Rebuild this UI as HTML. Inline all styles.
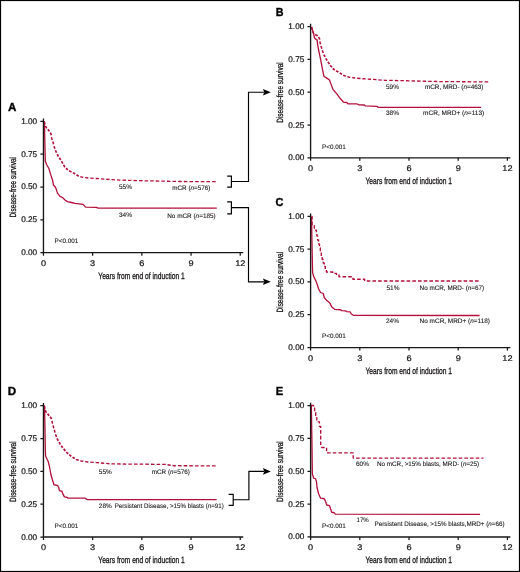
<!DOCTYPE html>
<html lang="en"><head><meta charset="utf-8"><title>Disease-free survival by mCR and MRD status</title>
<style>
html,body{margin:0;padding:0;background:#fff;}
body{width:520px;height:572px;overflow:hidden;}
svg{display:block;}
text{font-family:"Liberation Sans",sans-serif;fill:#1a1718;text-rendering:geometricPrecision;}
.tk{font-size:8.2px;stroke:#1a1718;stroke-width:0.22px;}
.lb{font-size:6.5px;stroke:#1a1718;stroke-width:0.1px;}
.ti{font-size:9.1px;stroke:#1a1718;stroke-width:0.3px;}
.ty{stroke-width:0.3px;}
.pl{font-size:11.6px;font-weight:bold;fill:#000;stroke:#000;stroke-width:0.35px;}
.ax{stroke:#1a1718;stroke-width:1.35;fill:none;}
.tick{stroke:#1a1718;stroke-width:1.25;fill:none;}
.cn{stroke:#000;stroke-width:1.15;fill:none;}
.cs{stroke:#B2103A;stroke-width:1.3;fill:none;stroke-linejoin:round;}
.cd{stroke:#B2103A;fill:none;stroke-linejoin:round;}
</style></head><body>
<svg width="520" height="572" viewBox="0 0 520 572">
<rect x="0" y="0" width="520" height="572" fill="#fff"/>
<rect x="0.55" y="0.55" width="518.9" height="570.9" fill="none" stroke="#000" stroke-width="1.1"/>
<g id="panel-A">
<text class="pl" x="8.0" y="111.3" textLength="8.4" lengthAdjust="spacingAndGlyphs">A</text>
<path class="cd" stroke-width="1.30" d="M139.03,180.67 L140.00,180.70 L142.55,180.75 M144.61,180.79 L148.14,180.86 M150.20,180.90 L153.73,180.97 M155.78,181.02 L159.31,181.09 M161.37,181.13 L164.90,181.20 M166.96,181.24 L170.49,181.31 M172.55,181.35 L176.08,181.42 M178.14,181.46 L180.00,181.50 L181.69,181.51 M183.78,181.52 L187.36,181.54 M189.45,181.55 L193.03,181.57 M195.12,181.58 L198.70,181.60 M200.79,181.61 L204.37,181.63 M206.46,181.64 L210.04,181.66 M212.13,181.67 L215.71,181.69"/>
<path class="cd" stroke-width="1.35" d="M90.28,178.12 L93.67,178.33 M95.64,178.46 L96.25,178.50 L99.01,178.69 M100.98,178.82 L104.34,179.06 M111.52,179.68 L114.95,179.85 M116.95,179.95 L120.00,180.10 L120.39,180.11 M122.43,180.17 L125.92,180.28 M127.96,180.34 L131.46,180.44 M133.50,180.50 L136.99,180.61"/>
<path class="cd" stroke-width="1.40" d="M85.07,177.63 L88.36,177.94 M106.27,179.23 L109.55,179.55"/>
<path class="cd" stroke-width="1.50" d="M44.30,121.50 L44.90,124.50 M51.55,137.05 L51.80,138.40 L52.28,139.92 M80.35,176.65 L83.23,177.37"/>
<path class="cd" stroke-width="1.55" d="M52.78,141.52 L53.00,142.20 L53.59,144.31 M54.05,145.95 L54.20,146.50 L54.89,148.71"/>
<path class="cd" stroke-width="1.60" d="M50.28,132.62 L50.90,133.50 L51.23,135.27"/>
<path class="cd" stroke-width="1.65" d="M45.50,126.00 L46.50,128.00 L46.79,128.31 M55.42,150.28 L56.50,152.80 M63.57,164.93 L64.86,167.24 M69.12,170.78 L71.52,171.98"/>
<path class="cd" stroke-width="1.70" d="M47.79,129.41 L48.80,130.50 L49.42,131.38 M57.20,154.20 L58.40,156.25 L58.53,156.47 M59.34,157.76 L60.71,159.99 M61.52,161.28 L61.90,161.90 L62.83,163.57 M65.93,168.27 L67.90,169.90 M72.92,172.68 L73.75,173.10 L75.19,174.01 M76.48,174.82 L78.69,176.21"/>
<path class="cs" d="M44.40,121.30 L45.30,161.20 L46.90,165.00 L49.00,168.80 L50.60,174.40 L52.50,180.00 L53.50,185.00 L55.60,187.50 L57.50,193.10 L60.00,196.30 L62.50,197.50 L65.00,200.00 L67.50,201.60 L71.30,202.50 L75.00,203.40 L78.80,203.80 L83.10,204.40 L85.60,207.10 L96.30,207.30 L98.10,208.10 L216.80,208.20"/>
<path class="tick" d="M40.35,252.65H43.45M40.35,219.82H43.45M40.35,187.00H43.45M40.35,154.18H43.45M40.35,121.35H43.45M43.45,252.65V255.65M92.65,252.65V255.65M141.85,252.65V255.65M191.05,252.65V255.65M240.25,252.65V255.65"/>
<path class="ax" d="M43.45,118.55 V252.65 H243.25"/>
<text class="tk" x="21.2" y="255.1" textLength="16.0" lengthAdjust="spacingAndGlyphs">0.00</text>
<text class="tk" x="21.2" y="222.3" textLength="16.0" lengthAdjust="spacingAndGlyphs">0.25</text>
<text class="tk" x="21.2" y="189.4" textLength="16.0" lengthAdjust="spacingAndGlyphs">0.50</text>
<text class="tk" x="21.2" y="156.6" textLength="16.0" lengthAdjust="spacingAndGlyphs">0.75</text>
<text class="tk" x="21.2" y="123.8" textLength="16.0" lengthAdjust="spacingAndGlyphs">1.00</text>
<text class="tk" x="40.90" y="265.6" textLength="5.1" lengthAdjust="spacingAndGlyphs">0</text>
<text class="tk" x="90.10" y="265.6" textLength="5.1" lengthAdjust="spacingAndGlyphs">3</text>
<text class="tk" x="139.30" y="265.6" textLength="5.1" lengthAdjust="spacingAndGlyphs">6</text>
<text class="tk" x="188.50" y="265.6" textLength="5.1" lengthAdjust="spacingAndGlyphs">9</text>
<text class="tk" x="235.15" y="265.6" textLength="10.2" lengthAdjust="spacingAndGlyphs">12</text>
<text class="ti" x="98.3" y="278.8" textLength="86.5" lengthAdjust="spacingAndGlyphs">Years from end of induction 1</text>
<text class="ti ty" transform="translate(16.0,217.6) rotate(-90)" textLength="60.6" lengthAdjust="spacingAndGlyphs">Disease-free survival</text>
<text class="lb" x="119.0" y="188.6" textLength="13.0" lengthAdjust="spacingAndGlyphs">55%</text>
<text class="lb" x="172.3" y="189.7" textLength="38.1" lengthAdjust="spacingAndGlyphs">mCR (<tspan font-style='italic'>n</tspan>=576)</text>
<text class="lb" x="119.0" y="216.8" textLength="13.0" lengthAdjust="spacingAndGlyphs">34%</text>
<text class="lb" x="167.2" y="218.1" textLength="48.5" lengthAdjust="spacingAndGlyphs">No mCR (<tspan font-style='italic'>n</tspan>=185)</text>
<text class="lb" x="54.5" y="243.2" textLength="23.8" lengthAdjust="spacingAndGlyphs">P&lt;0.001</text>
</g>
<g id="panel-B">
<text class="pl" x="275.7" y="15.9" textLength="7.8" lengthAdjust="spacingAndGlyphs">B</text>
<path class="cd" stroke-width="1.30" d="M389.21,80.39 L392.74,80.46 M394.80,80.50 L398.32,80.58 M400.38,80.62 L403.91,80.69 M405.96,80.74 L409.00,80.80 L409.49,80.81 M439.32,81.58 L440.00,81.60 L442.88,81.62 M444.97,81.63 L448.55,81.65 M450.63,81.67 L454.21,81.69 M456.30,81.70 L459.88,81.72 M461.96,81.74 L465.54,81.76 M467.63,81.77 L471.21,81.79 M473.30,81.80 L476.87,81.83 M478.96,81.84 L482.54,81.86 M484.63,81.87 L488.20,81.90"/>
<path class="cd" stroke-width="1.35" d="M362.40,78.70 L363.00,78.75 L365.77,78.93 M367.74,79.06 L371.12,79.28 M373.09,79.41 L376.44,79.66 M378.40,79.80 L381.74,80.06 M383.70,80.20 L385.00,80.30 L387.16,80.34 M411.53,80.87 L415.04,80.96 M417.09,81.01 L420.60,81.10 M422.65,81.15 L426.16,81.24 M428.20,81.30 L431.71,81.39 M433.76,81.44 L437.27,81.53"/>
<path class="cd" stroke-width="1.40" d="M357.16,78.24 L360.47,78.53"/>
<path class="cd" stroke-width="1.45" d="M352.07,77.63 L355.24,78.06"/>
<path class="cd" stroke-width="1.50" d="M319.92,41.38 L320.20,43.30 L320.52,44.38 M347.35,76.65 L349.25,77.25 L350.22,77.38"/>
<path class="cd" stroke-width="1.55" d="M311.50,27.00 L312.36,29.74 M312.87,31.33 L313.73,34.07 M321.00,46.00 L321.83,48.77 M322.34,50.36 L323.21,53.09"/>
<path class="cd" stroke-width="1.60" d="M343.21,75.09 L344.00,75.60 L345.75,76.15"/>
<path class="cd" stroke-width="1.65" d="M315.13,34.77 L317.20,35.50 L317.55,35.95 M318.46,37.14 L319.50,38.50 L319.65,39.55 M323.77,54.63 L325.03,56.97"/>
<path class="cd" stroke-width="1.70" d="M325.76,58.34 L326.00,58.80 L327.12,60.58 M327.92,61.88 L328.50,62.80 L329.39,64.01 M330.28,65.22 L331.00,66.20 L331.88,67.22 M332.85,68.35 L333.40,69.00 L334.84,69.96 M336.10,70.80 L336.40,71.00 L338.40,72.10 M339.74,72.86 L341.93,74.27"/>
<path class="cs" d="M311.50,27.00 L312.60,30.50 L313.80,34.30 L314.50,37.80 L315.70,39.10 L317.10,40.10 L317.60,44.30 L318.60,50.00 L320.50,58.80 L322.40,68.80 L323.90,76.30 L326.80,78.10 L329.50,80.00 L331.10,84.40 L333.00,89.40 L336.80,93.80 L340.50,98.80 L343.60,102.20 L346.80,102.50 L348.00,103.80 L356.80,103.80 L358.60,104.80 L364.30,105.00 L365.50,105.90 L377.00,106.30 L378.00,107.30 L481.20,107.30"/>
<path class="tick" d="M307.50,157.85H310.60M307.50,125.02H310.60M307.50,92.20H310.60M307.50,59.37H310.60M307.50,26.55H310.60M310.60,157.85V160.85M359.80,157.85V160.85M409.00,157.85V160.85M458.20,157.85V160.85M507.40,157.85V160.85"/>
<path class="ax" d="M310.60,23.75 V157.85 H510.40"/>
<text class="tk" x="288.3" y="160.3" textLength="16.0" lengthAdjust="spacingAndGlyphs">0.00</text>
<text class="tk" x="288.3" y="127.5" textLength="16.0" lengthAdjust="spacingAndGlyphs">0.25</text>
<text class="tk" x="288.3" y="94.6" textLength="16.0" lengthAdjust="spacingAndGlyphs">0.50</text>
<text class="tk" x="288.3" y="61.8" textLength="16.0" lengthAdjust="spacingAndGlyphs">0.75</text>
<text class="tk" x="288.3" y="29.0" textLength="16.0" lengthAdjust="spacingAndGlyphs">1.00</text>
<text class="tk" x="308.05" y="170.8" textLength="5.1" lengthAdjust="spacingAndGlyphs">0</text>
<text class="tk" x="357.25" y="170.8" textLength="5.1" lengthAdjust="spacingAndGlyphs">3</text>
<text class="tk" x="406.45" y="170.8" textLength="5.1" lengthAdjust="spacingAndGlyphs">6</text>
<text class="tk" x="455.65" y="170.8" textLength="5.1" lengthAdjust="spacingAndGlyphs">9</text>
<text class="tk" x="502.30" y="170.8" textLength="10.2" lengthAdjust="spacingAndGlyphs">12</text>
<text class="ti" x="365.5" y="183.9" textLength="86.5" lengthAdjust="spacingAndGlyphs">Years from end of induction 1</text>
<text class="ti ty" transform="translate(283.1,122.8) rotate(-90)" textLength="60.6" lengthAdjust="spacingAndGlyphs">Disease-free survival</text>
<text class="lb" x="386.0" y="89.4" textLength="13.0" lengthAdjust="spacingAndGlyphs">59%</text>
<text class="lb" x="424.9" y="89.3" textLength="58.6" lengthAdjust="spacingAndGlyphs">mCR, MRD- (<tspan font-style='italic'>n</tspan>=463)</text>
<text class="lb" x="386.0" y="115.4" textLength="13.0" lengthAdjust="spacingAndGlyphs">38%</text>
<text class="lb" x="423.1" y="115.3" textLength="61.1" lengthAdjust="spacingAndGlyphs">mCR, MRD+ (<tspan font-style='italic'>n</tspan>=113)</text>
<text class="lb" x="322.0" y="148.5" textLength="23.8" lengthAdjust="spacingAndGlyphs">P&lt;0.001</text>
</g>
<g id="panel-C">
<text class="pl" x="275.5" y="206.1" textLength="7.9" lengthAdjust="spacingAndGlyphs">C</text>
<path class="cd" stroke-width="1.35" stroke-dasharray="3.6 2.1" d="M311.60,216.40H312.10V225.60H314.30V230.10H316.40V232.60H316.90V236.00H317.60V240.00H318.60V244.00H319.50V248.00H320.30V252.80H321.30V256.00H322.20V259.50H323.20V263.00H324.20V266.50H325.30V269.50H326.40V272.00H332.80V273.40H336.50V275.00H339.00V276.70H352.90V279.20H364.60V281.00H480.30"/>
<path class="cs" d="M311.50,216.40 L312.30,260.00 L312.60,272.50 L313.60,276.30 L315.75,280.60 L317.40,285.00 L318.60,288.80 L320.50,292.50 L323.25,293.50 L324.25,297.50 L326.75,300.60 L329.90,303.10 L331.75,306.90 L334.90,309.40 L340.50,309.75 L341.75,310.60 L345.50,310.90 L346.75,311.60 L350.25,311.90 L351.10,313.75 L353.25,315.30 L479.60,315.50"/>
<path class="tick" d="M307.50,347.55H310.60M307.50,314.73H310.60M307.50,281.90H310.60M307.50,249.07H310.60M307.50,216.25H310.60M310.60,347.55V350.55M359.80,347.55V350.55M409.00,347.55V350.55M458.20,347.55V350.55M507.40,347.55V350.55"/>
<path class="ax" d="M310.60,213.45 V347.55 H510.40"/>
<text class="tk" x="288.3" y="350.0" textLength="16.0" lengthAdjust="spacingAndGlyphs">0.00</text>
<text class="tk" x="288.3" y="317.2" textLength="16.0" lengthAdjust="spacingAndGlyphs">0.25</text>
<text class="tk" x="288.3" y="284.3" textLength="16.0" lengthAdjust="spacingAndGlyphs">0.50</text>
<text class="tk" x="288.3" y="251.5" textLength="16.0" lengthAdjust="spacingAndGlyphs">0.75</text>
<text class="tk" x="288.3" y="218.7" textLength="16.0" lengthAdjust="spacingAndGlyphs">1.00</text>
<text class="tk" x="308.05" y="360.6" textLength="5.1" lengthAdjust="spacingAndGlyphs">0</text>
<text class="tk" x="357.25" y="360.6" textLength="5.1" lengthAdjust="spacingAndGlyphs">3</text>
<text class="tk" x="406.45" y="360.6" textLength="5.1" lengthAdjust="spacingAndGlyphs">6</text>
<text class="tk" x="455.65" y="360.6" textLength="5.1" lengthAdjust="spacingAndGlyphs">9</text>
<text class="tk" x="502.30" y="360.6" textLength="10.2" lengthAdjust="spacingAndGlyphs">12</text>
<text class="ti" x="365.5" y="373.7" textLength="86.5" lengthAdjust="spacingAndGlyphs">Years from end of induction 1</text>
<text class="ti ty" transform="translate(283.1,312.5) rotate(-90)" textLength="60.6" lengthAdjust="spacingAndGlyphs">Disease-free survival</text>
<text class="lb" x="386.5" y="290.4" textLength="13.0" lengthAdjust="spacingAndGlyphs">51%</text>
<text class="lb" x="419.6" y="290.3" textLength="64.6" lengthAdjust="spacingAndGlyphs">No mCR, MRD- (<tspan font-style='italic'>n</tspan>=67)</text>
<text class="lb" x="386.0" y="323.0" textLength="13.0" lengthAdjust="spacingAndGlyphs">24%</text>
<text class="lb" x="419.6" y="323.1" textLength="70.4" lengthAdjust="spacingAndGlyphs">No mCR, MRD+ (<tspan font-style='italic'>n</tspan>=118)</text>
<text class="lb" x="322.0" y="338.2" textLength="23.8" lengthAdjust="spacingAndGlyphs">P&lt;0.001</text>
</g>
<g id="panel-D">
<text class="pl" x="7.8" y="394.9" textLength="8.4" lengthAdjust="spacingAndGlyphs">D</text>
<path class="cd" stroke-width="1.30" d="M111.45,463.85 L112.00,463.90 L114.97,463.93 M117.05,463.95 L120.62,463.98 M122.70,464.00 L126.27,464.03 M128.35,464.05 L131.91,464.09 M133.99,464.11 L137.56,464.14 M139.64,464.16 L143.21,464.19 M145.29,464.21 L148.85,464.25 M150.93,464.27 L154.50,464.30 M156.58,464.32 L160.15,464.35 M177.98,465.72 L181.56,465.74 M183.66,465.74 L187.24,465.76 M189.33,465.77 L192.91,465.79 M195.00,465.80 L198.59,465.81 M200.68,465.82 L204.26,465.84 M206.35,465.85 L209.93,465.87 M212.02,465.88 L215.61,465.89"/>
<path class="cd" stroke-width="1.35" d="M90.31,462.19 L93.68,462.42 M162.23,464.37 L165.00,464.40 L165.70,464.50 M172.51,465.49 L174.00,465.70 L175.89,465.71"/>
<path class="cd" stroke-width="1.40" d="M95.64,462.56 L96.25,462.60 L98.98,462.82 M100.93,462.97 L104.26,463.24 M106.20,463.40 L109.51,463.69"/>
<path class="cd" stroke-width="1.45" d="M85.17,461.63 L87.50,462.00 L88.34,462.06 M167.53,464.77 L170.68,465.22"/>
<path class="cd" stroke-width="1.50" d="M44.30,405.60 L44.40,406.40 L44.92,408.58 M51.89,420.81 L52.50,423.25 L52.62,423.68 M80.37,460.73 L81.25,461.00 L83.36,461.34"/>
<path class="cd" stroke-width="1.55" d="M53.06,425.34 L53.81,428.19 M54.27,429.83 L55.07,432.63 M76.03,459.37 L76.25,459.50 L78.75,460.25"/>
<path class="cd" stroke-width="1.60" d="M55.53,434.27 L55.60,434.50 L56.51,436.89"/>
<path class="cd" stroke-width="1.65" d="M45.33,410.27 L45.60,411.40 L46.58,412.62 M57.09,438.41 L57.50,439.50 L58.26,440.84"/>
<path class="cd" stroke-width="1.70" d="M47.52,413.78 L48.10,414.50 L49.15,415.75 M50.11,416.89 L51.25,418.25 L51.47,419.13 M59.02,442.18 L60.00,443.90 L60.37,444.43 M61.25,445.65 L62.75,447.75 M72.52,457.18 L74.74,458.56"/>
<path class="cd" stroke-width="1.75" d="M63.68,448.92 L65.36,450.84 M66.34,451.96 L66.90,452.60 L68.18,453.72 M69.30,454.70 L71.22,456.38"/>
<path class="cs" d="M44.50,405.60 L45.00,430.00 L45.30,450.00 L45.60,456.25 L48.10,461.25 L49.40,466.25 L51.00,475.00 L52.50,480.00 L54.00,484.75 L57.50,485.40 L58.75,487.50 L59.40,490.60 L61.90,491.25 L63.10,494.40 L64.40,496.90 L66.90,497.25 L68.10,498.10 L85.00,498.10 L86.90,499.60 L216.60,499.70"/>
<path class="tick" d="M40.35,537.00H43.45M40.35,504.18H43.45M40.35,471.35H43.45M40.35,438.52H43.45M40.35,405.70H43.45M43.45,537.00V540.00M92.65,537.00V540.00M141.85,537.00V540.00M191.05,537.00V540.00M240.25,537.00V540.00"/>
<path class="ax" d="M43.45,402.90 V537.00 H243.25"/>
<text class="tk" x="21.2" y="539.5" textLength="16.0" lengthAdjust="spacingAndGlyphs">0.00</text>
<text class="tk" x="21.2" y="506.6" textLength="16.0" lengthAdjust="spacingAndGlyphs">0.25</text>
<text class="tk" x="21.2" y="473.8" textLength="16.0" lengthAdjust="spacingAndGlyphs">0.50</text>
<text class="tk" x="21.2" y="441.0" textLength="16.0" lengthAdjust="spacingAndGlyphs">0.75</text>
<text class="tk" x="21.2" y="408.1" textLength="16.0" lengthAdjust="spacingAndGlyphs">1.00</text>
<text class="tk" x="40.90" y="550.0" textLength="5.1" lengthAdjust="spacingAndGlyphs">0</text>
<text class="tk" x="90.10" y="550.0" textLength="5.1" lengthAdjust="spacingAndGlyphs">3</text>
<text class="tk" x="139.30" y="550.0" textLength="5.1" lengthAdjust="spacingAndGlyphs">6</text>
<text class="tk" x="188.50" y="550.0" textLength="5.1" lengthAdjust="spacingAndGlyphs">9</text>
<text class="tk" x="235.15" y="550.0" textLength="10.2" lengthAdjust="spacingAndGlyphs">12</text>
<text class="ti" x="98.3" y="563.1" textLength="86.5" lengthAdjust="spacingAndGlyphs">Years from end of induction 1</text>
<text class="ti ty" transform="translate(16.0,502.0) rotate(-90)" textLength="60.6" lengthAdjust="spacingAndGlyphs">Disease-free survival</text>
<text class="lb" x="98.8" y="474.2" textLength="13.0" lengthAdjust="spacingAndGlyphs">55%</text>
<text class="lb" x="151.8" y="474.2" textLength="38.1" lengthAdjust="spacingAndGlyphs">mCR (<tspan font-style='italic'>n</tspan>=576)</text>
<text class="lb" x="98.8" y="508.0" textLength="13.0" lengthAdjust="spacingAndGlyphs">28%</text>
<text class="lb" x="114.7" y="507.7" textLength="109.1" lengthAdjust="spacingAndGlyphs">Persistent Disease, &gt;15% blasts (<tspan font-style='italic'>n</tspan>=91)</text>
<text class="lb" x="54.5" y="527.7" textLength="23.8" lengthAdjust="spacingAndGlyphs">P&lt;0.001</text>
</g>
<g id="panel-E">
<text class="pl" x="275.7" y="394.6" textLength="7.4" lengthAdjust="spacingAndGlyphs">E</text>
<path class="cd" stroke-width="1.35" stroke-dasharray="3.6 2.1" d="M311.1,405.5 H313.6 V408 H314.6 V412 H315.7 V416.5 H316.8 V421.8 H319.4 V426.5 H320.7 V446 L321.6,447.5 H326.6 V452.9 H353.2 V458.1 H483.5"/>
<path class="cs" d="M311.35,405.60 L311.90,440.00 L312.35,473.75 L313.60,478.10 L315.50,478.75 L316.50,481.90 L317.00,487.50 L318.60,493.75 L320.50,498.10 L324.25,498.75 L325.50,501.25 L326.75,505.00 L329.50,505.60 L330.50,508.75 L331.75,512.25 L334.25,512.75 L335.25,514.20 L480.10,514.40"/>
<path class="tick" d="M307.50,536.95H310.60M307.50,504.13H310.60M307.50,471.30H310.60M307.50,438.48H310.60M307.50,405.65H310.60M310.60,536.95V539.95M359.80,536.95V539.95M409.00,536.95V539.95M458.20,536.95V539.95M507.40,536.95V539.95"/>
<path class="ax" d="M310.60,402.85 V536.95 H510.40"/>
<text class="tk" x="288.3" y="539.4" textLength="16.0" lengthAdjust="spacingAndGlyphs">0.00</text>
<text class="tk" x="288.3" y="506.6" textLength="16.0" lengthAdjust="spacingAndGlyphs">0.25</text>
<text class="tk" x="288.3" y="473.8" textLength="16.0" lengthAdjust="spacingAndGlyphs">0.50</text>
<text class="tk" x="288.3" y="440.9" textLength="16.0" lengthAdjust="spacingAndGlyphs">0.75</text>
<text class="tk" x="288.3" y="408.1" textLength="16.0" lengthAdjust="spacingAndGlyphs">1.00</text>
<text class="tk" x="308.05" y="550.0" textLength="5.1" lengthAdjust="spacingAndGlyphs">0</text>
<text class="tk" x="357.25" y="550.0" textLength="5.1" lengthAdjust="spacingAndGlyphs">3</text>
<text class="tk" x="406.45" y="550.0" textLength="5.1" lengthAdjust="spacingAndGlyphs">6</text>
<text class="tk" x="455.65" y="550.0" textLength="5.1" lengthAdjust="spacingAndGlyphs">9</text>
<text class="tk" x="502.30" y="550.0" textLength="10.2" lengthAdjust="spacingAndGlyphs">12</text>
<text class="ti" x="365.5" y="563.1" textLength="86.5" lengthAdjust="spacingAndGlyphs">Years from end of induction 1</text>
<text class="ti ty" transform="translate(283.1,501.9) rotate(-90)" textLength="60.6" lengthAdjust="spacingAndGlyphs">Disease-free survival</text>
<text class="lb" x="356.0" y="465.6" textLength="13.0" lengthAdjust="spacingAndGlyphs">60%</text>
<text class="lb" x="377.0" y="465.8" textLength="102.2" lengthAdjust="spacingAndGlyphs">No mCR, &gt;15% blasts, MRD- (<tspan font-style='italic'>n</tspan>=25)</text>
<text class="lb" x="356.6" y="521.7" textLength="12.2" lengthAdjust="spacingAndGlyphs">17%</text>
<text class="lb" x="374.6" y="526.4" textLength="129.9" lengthAdjust="spacingAndGlyphs">Persistent Disease, &gt;15% blasts,MRD+ (<tspan font-style='italic'>n</tspan>=66)</text>
<text class="lb" x="322.0" y="527.7" textLength="23.8" lengthAdjust="spacingAndGlyphs">P&lt;0.001</text>
</g>
<g id="connectors">
<path class="cn" d="M227.2,176.1 H231.4 V187.1 H227.2 M231.4,181.5 H248.5 V92.2 H264"/>
<path class="cn" d="M227.2,201.8 H231.4 V213.8 H227.2 M231.4,207.6 H248.5 V281.9 H264"/>
<path class="cn" d="M228.6,494.3 H233.2 V505.4 H228.6 M233.2,499.7 H248.9 V471.4 H264"/>
<path d="M270.8,92.2 L262.9,88.9 L264.3,92.2 L262.9,95.5 Z" fill="#000"/>
<path d="M270.8,281.8 L262.9,278.5 L264.3,281.8 L262.9,285.1 Z" fill="#000"/>
<path d="M270.8,471.4 L262.9,468.1 L264.3,471.4 L262.9,474.7 Z" fill="#000"/>
</g>
</svg>
</body></html>
